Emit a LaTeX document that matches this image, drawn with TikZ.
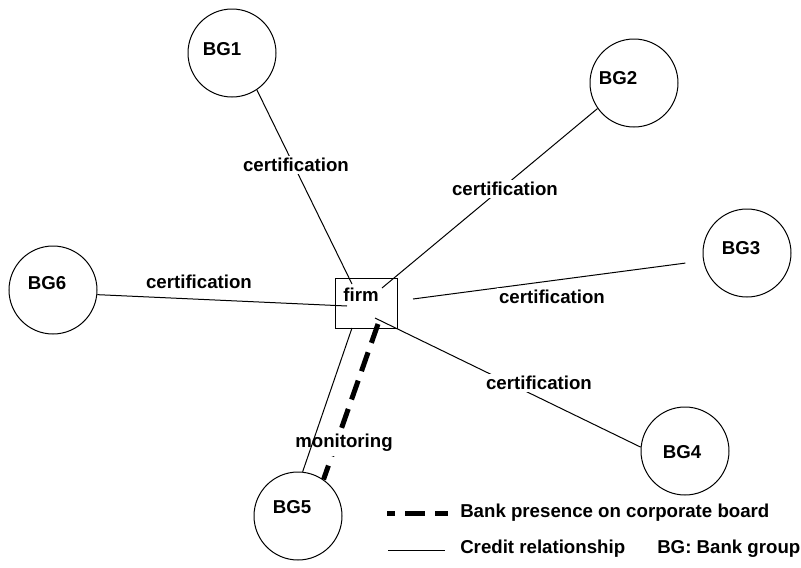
\documentclass[tikz,border=0pt]{standalone}
\usepackage{fontspec}
\setmainfont{Liberation Sans}
\begin{document}
\begin{tikzpicture}[x=0.75pt,y=-0.75pt,
  bg/.style={circle,draw,line width=0.75pt,minimum size=66pt,inner sep=0pt},
  lbl/.style={font=\bfseries\fontsize{14}{16}\selectfont,inner sep=0pt},
  tag/.style={font=\bfseries\fontsize{14}{16}\selectfont,fill=white,inner sep=1.5pt},
  thinline/.style={line width=0.75pt},
  board/.style={line width=3.75pt,dash pattern=on 15pt off 7.5pt}]
\useasboundingbox (0,0) rectangle (801,568);

% bank groups
\node[bg,label={[lbl,xshift=-7.5pt,yshift=3pt]center:BG1}] (BG1) at (232,53) {};
\node[bg,label={[lbl,xshift=-12pt,yshift=3.75pt]center:BG2}] (BG2) at (634,83) {};
\node[bg,label={[lbl,xshift=-4.5pt,yshift=3.75pt]center:BG3}] (BG3) at (747,253) {};
\node[bg,label={[lbl,xshift=-2.25pt,yshift=-0.75pt]center:BG4}] (BG4) at (685,451) {};
\node[bg,label={[lbl,xshift=-4.5pt,yshift=6.75pt]center:BG5}] (BG5) at (298,516) {};
\node[bg,label={[lbl,xshift=-4.5pt,yshift=5.25pt]center:BG6}] (BG6) at (53,290) {};

% firm
\node[draw,thinline,minimum width=46.5pt,minimum height=37.5pt,inner sep=0pt,
  label={[lbl,xshift=-3.75pt,yshift=6pt]center:firm}] (firm) at (366,303) {};

% connector ends at the firm
\coordinate (c1) at (352,284);
\coordinate (c2) at (382,288);
\coordinate (c3) at (413,299);
\coordinate (c4) at (375,318);
\coordinate (c5) at (352,328);
\coordinate (c6) at (347,306);
\coordinate (cd) at (378,324);

% connectors
\draw[thinline] (BG1.-56) -- (c1);
\draw[thinline] (BG2.215) -- (c2);
\draw[thinline,shorten <=13.5pt] (BG3.190) -- (c3);
\draw[thinline] (BG4.175) -- (c4);
\draw[thinline] (BG6.-6) -- (c6);
\draw[board] (cd) -- (BG5.55);

% labels
\node[tag] (t1) at (296,165) {certification};
\node[tag] (t2) at (505,189) {certification};
\node[tag] (t3) at (552,297) {certification};
\node[tag] (t4) at (539,383) {certification};
\node[tag] (t6) at (199,282) {certification};
\node[tag,inner sep=3pt] (tm) at (344,443) {monitoring};

\draw[thinline] (c5) -- (BG5.84);

% legend
\coordinate (l1a) at (387,513);
\coordinate (l1b) at (448,513);
\coordinate (l2a) at (388,550);
\coordinate (l2b) at (445,550);
\draw[board,dash phase=9pt] (l1a) -- (l1b);
\draw[thinline] (l2a) -- (l2b);
\node[lbl,anchor=west] (leg1) at (460,513) {Bank presence on corporate board};
\node[lbl,anchor=west] (leg2) at (460,549) {Credit relationship};
\node[lbl,anchor=west] (leg3) at (657,549) {BG: Bank group};
\end{tikzpicture}
\end{document}
